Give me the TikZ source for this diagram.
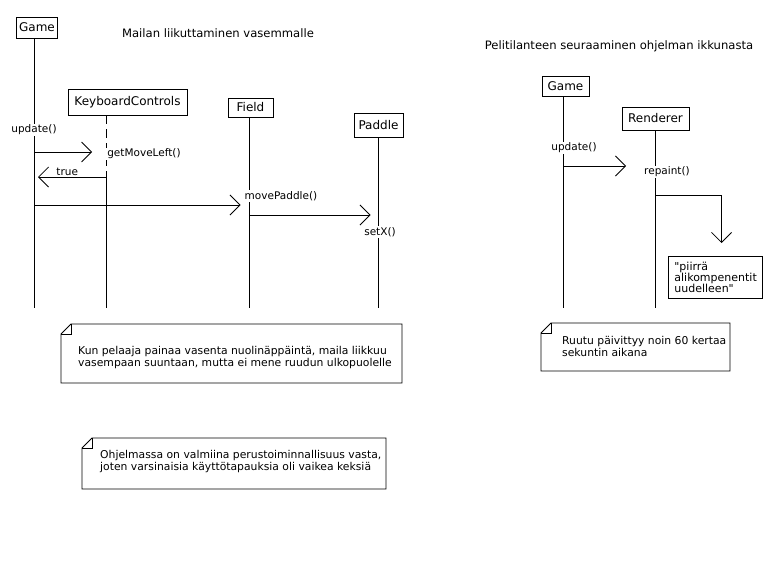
\documentclass[tikz,border=0pt]{standalone}
\usepackage{fontspec}
\setmainfont[Ligatures=TeXOff]{DejaVu Sans}
\usetikzlibrary{positioning, arrows.meta, calc}
\tikzset{
  OB/.style={draw,line width=0.8pt,rectangle,minimum height=22pt,inner xsep=3pt,font=\fontsize{12}{14}\selectfont},
  MS/.style={fill=white,inner sep=1pt,font=\fontsize{10.5}{12}\selectfont},
  LL/.style={line width=0.8pt},
  CL/.style={-{Straight Barb[length=10pt,width=20pt]},line width=0.8pt},
  NT/.style={align=left,inner sep=0pt,anchor=west,font=\fontsize{10.8}{12}\selectfont},
  TT/.style={font=\fontsize{11.6}{13}\selectfont},
}
% note outline with folded top left corner: #1 top left, #2 bottom right
\newcommand{\notebox}[2]{%
  \draw[LL] (#1) ++(0,10) -- ++(10,-10) -- (#1 -| #2) -- (#2) -- (#2 -| #1) -- cycle;
  \draw[LL] (#1) ++(0,10) -- ++(10,0) -- ++(0,-10);
}
\begin{document}
\begin{tikzpicture}[x=1pt,y=-1pt]
\path[fill=white,use as bounding box] (0,0) rectangle (784,573);

% Titles
\node[TT](t1) at (218,33){Mailan liikuttaminen vasemmalle};
\node[TT](t2) at (619,46){Pelitilanteen seuraaminen ohjelman ikkunasta};

% Objects, left diagram
\node[OB,minimum width=40pt,minimum height=21pt](game) at (37,27.5){Game};
\node[OB,minimum width=119pt,minimum height=26pt](kc) at (127.5,102){KeyboardControls};
\node[OB,minimum width=45pt,minimum height=19pt](field) at (250.5,107.5){Field};
\node[OB,minimum width=49pt,minimum height=24pt](paddle) at (378.5,125){Paddle};

% Objects, right diagram
\node[OB,minimum width=47pt,minimum height=20pt](game2) at (565.5,86){Game};
\node[OB,minimum width=67pt,minimum height=23pt](rend) at (655.5,118.5){Renderer};

\coordinate (bottom) at (0,308);

% Lifelines
\draw[LL] (game.south -| 34,0) -- (bottom -| 34,0);
\draw[LL,dash pattern=on 9pt off 5pt] (kc.south -| 106,0) -- (106,177);
\draw[LL] (106,177) -- (bottom -| 106,0);
\draw[LL] (field.south -| 249,0) -- (bottom -| 249,0);
\draw[LL] (paddle.south) -- (bottom -| paddle.south);
\draw[LL] (game2.south -| 563,0) -- (bottom -| 563,0);
\draw[LL] (rend.south) -- (bottom -| rend.south);

% Message labels
\node[MS](upd) at (34,130){update()};
\node[MS](gml) at (144,154){getMoveLeft()};
\node[MS](mvp) at (281,196){movePaddle()};
\node[MS](setx) at (380,232){setX()};
\node[MS](upd2) at (574,148){update()};
\node[MS](rep) at (667,172){repaint()};

% Calls, left diagram
\draw[CL] (34,152) -- ([xshift=-14pt]gml.west |- 0,152);
\draw[CL] (106,177) -- node[pos=.57,above,inner sep=1pt,font=\fontsize{10.5}{12}\selectfont]{true} (38,177);
\draw[CL] (34,205) -- ([xshift=-3pt]mvp.west |- 0,205);
\draw[CL] (249,215) -- ([xshift=-8pt]paddle.south |- 0,215);

% Calls, right diagram
\draw[CL] (563,166) -- ([xshift=-17pt]rep.west |- 0,166);
\node[draw,line width=0.8pt,align=left,anchor=north west,minimum width=89pt,minimum height=42pt,inner xsep=6pt,font=\fontsize{11}{11}\selectfont](redraw) at (668,256){"piirrä\\alikompenentit\\uudelleen"};
\draw[CL] (rend.south |- 0,195) -- ++(66,0) -- ++(0,48);

% Notes
\coordinate (n1a) at (61,324); \coordinate (n1b) at (402,383);
\notebox{n1a}{n1b}
\node[NT](note1) at (78,358){Kun pelaaja painaa vasenta nuolinäppäintä, maila liikkuu\\vasempaan suuntaan, mutta ei mene ruudun ulkopuolelle};

\coordinate (n2a) at (82,438); \coordinate (n2b) at (386,489);
\notebox{n2a}{n2b}
\node[NT](note2) at (100,462){Ohjelmassa on valmiina perustoiminnallisuus vasta,\\joten varsinaisia käyttötapauksia oli vaikea keksiä};

\coordinate (n3a) at (541,323); \coordinate (n3b) at (730,371);
\notebox{n3a}{n3b}
\node[NT](note3) at (562,346){Ruutu päivittyy noin 60 kertaa\\sekuntin aikana};

\end{tikzpicture}
\end{document}
